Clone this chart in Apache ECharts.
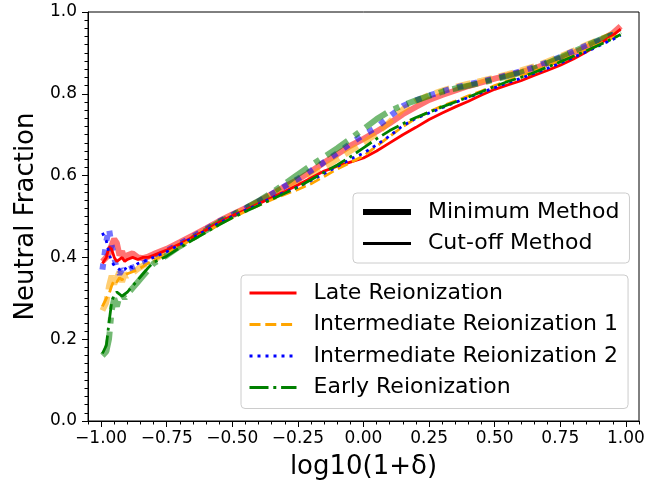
<!DOCTYPE html>
<html>
<head>
<meta charset="utf-8">
<script src="https://cdn.jsdelivr.net/npm/echarts@6/dist/echarts.min.js"></script>
<style>html,body{margin:0;padding:0;background:#fff}#c{width:662px;height:487px}</style>
</head>
<body>
<div id="c"></div>
<script>
// x values: log10(1+delta)
const xs = [-0.995,-0.98,-0.97,-0.96,-0.95,-0.94,-0.93,-0.92,-0.91,-0.90,-0.88,-0.86,-0.84,-0.82,-0.80,
  -0.75,-0.70,-0.65,-0.60,-0.55,-0.50,-0.45,-0.40,-0.35,-0.30,-0.25,-0.20,-0.15,-0.10,-0.05,0.00,
  0.05,0.10,0.15,0.20,0.25,0.30,0.35,0.40,0.45,0.50,0.55,0.60,0.65,0.70,0.75,0.80,0.85,0.90,0.95,0.98];

// Cut-off method (thin lines)
const lateCut = [0.385,0.400,0.425,0.420,0.400,0.390,0.395,0.400,0.390,0.395,0.400,0.395,0.400,0.400,0.405,
  0.418,0.433,0.450,0.467,0.486,0.502,0.516,0.531,0.546,0.561,0.577,0.594,0.611,0.623,0.633,0.643,
  0.660,0.680,0.700,0.718,0.737,0.753,0.768,0.782,0.797,0.811,0.822,0.832,0.845,0.857,0.870,0.885,0.903,0.922,0.943,0.958];
const int1Cut = [0.280,0.300,0.310,0.330,0.345,0.340,0.350,0.345,0.355,0.360,0.365,0.370,0.378,0.386,0.393,
  0.410,0.428,0.445,0.462,0.481,0.497,0.512,0.527,0.541,0.554,0.566,0.580,0.598,0.616,0.632,0.648,
  0.672,0.696,0.720,0.740,0.756,0.770,0.782,0.795,0.807,0.820,0.832,0.843,0.855,0.868,0.880,0.893,0.907,0.922,0.937,0.945];
const int2Cut = [0.460,0.440,0.410,0.390,0.380,0.375,0.370,0.375,0.370,0.380,0.375,0.385,0.390,0.395,0.400,
  0.414,0.431,0.448,0.466,0.484,0.500,0.515,0.530,0.545,0.559,0.572,0.588,0.605,0.622,0.640,0.655,
  0.675,0.697,0.722,0.740,0.753,0.766,0.779,0.791,0.803,0.815,0.827,0.838,0.850,0.862,0.875,0.889,0.903,0.918,0.933,0.943];
const earlyCut = [0.165,0.185,0.240,0.290,0.310,0.315,0.310,0.305,0.310,0.315,0.330,0.345,0.360,0.375,0.388,
  0.403,0.424,0.443,0.461,0.480,0.497,0.512,0.527,0.542,0.557,0.572,0.590,0.608,0.626,0.646,0.668,
  0.690,0.710,0.727,0.742,0.755,0.768,0.780,0.792,0.805,0.818,0.830,0.840,0.852,0.865,0.878,0.892,0.905,0.920,0.935,0.945];

// Minimum method (thick translucent lines)
const lateMin = [0.390,0.400,0.410,0.430,0.445,0.435,0.405,0.415,0.395,0.405,0.410,0.400,0.398,0.402,0.408,
  0.421,0.437,0.454,0.471,0.489,0.505,0.520,0.537,0.555,0.573,0.590,0.610,0.632,0.652,0.673,0.690,
  0.708,0.728,0.750,0.768,0.785,0.797,0.808,0.819,0.828,0.837,0.845,0.853,0.862,0.874,0.886,0.900,0.914,0.929,0.948,0.965];
const int1Min = [0.270,0.290,0.330,0.355,0.335,0.350,0.365,0.340,0.360,0.355,0.362,0.372,0.380,0.387,0.393,
  0.412,0.430,0.448,0.466,0.485,0.502,0.518,0.535,0.552,0.570,0.585,0.600,0.620,0.640,0.660,0.680,
  0.702,0.732,0.762,0.782,0.797,0.808,0.817,0.825,0.832,0.840,0.848,0.857,0.867,0.879,0.892,0.905,0.920,0.933,0.946,0.950];
const int2Min = [0.370,0.440,0.470,0.430,0.400,0.370,0.360,0.370,0.365,0.370,0.375,0.380,0.385,0.390,0.398,
  0.416,0.433,0.451,0.469,0.488,0.504,0.520,0.537,0.555,0.574,0.592,0.612,0.633,0.655,0.678,0.700,
  0.718,0.745,0.770,0.784,0.796,0.806,0.815,0.823,0.830,0.838,0.846,0.855,0.865,0.877,0.890,0.904,0.918,0.931,0.944,0.950];
const earlyMin = [0.160,0.170,0.200,0.270,0.300,0.280,0.305,0.310,0.300,0.310,0.325,0.340,0.355,0.370,0.385,
  0.405,0.427,0.447,0.466,0.486,0.503,0.520,0.538,0.558,0.580,0.603,0.625,0.646,0.667,0.690,0.714,
  0.738,0.758,0.772,0.784,0.795,0.805,0.813,0.820,0.827,0.835,0.843,0.852,0.862,0.875,0.889,0.903,0.918,0.932,0.945,0.953];

const seriesNames = ['Late Reionization','Intermediate Reionization 1','Intermediate Reionization 2','Early Reionization'];
const methodNames = ['Minimum Method','Cut-off Method'];
const xMajorTicks = [-1.00,-0.75,-0.50,-0.25,0.00,0.25,0.50,0.75,1.00];
const yTicks = [0.0,0.2,0.4,0.6,0.8,1.0];

const xMinorTicks = [];
for (let k = 0; k <= 42; k++) xMinorTicks.push(Math.round(-105 + k * 5) / 100);

const colors = ['#ff0000','#ffa500','#0000ff','#008000'];
const thinDash = ['solid',[11,4.8],[3,5],[19,4.8,3,4.8]];
const thickDash = ['solid',[15,7],[6,8.5],[26,8,6,8]];
const cutData = [lateCut,int1Cut,int2Cut,earlyCut];
const minData = [lateMin,int1Min,int2Min,earlyMin];

function zip(ys){ return xs.map((x,i)=>[x,ys[i]]); }

const series = [];
minData.forEach((ys,i)=>{
  series.push({name: seriesNames[i] + ' (min)', type:'line', data: zip(ys), symbol:'none',
    color: colors[i], silent:true,
    lineStyle:{color: colors[i], width:6, opacity:0.55, type: thickDash[i]}});
});
cutData.forEach((ys,i)=>{
  series.push({name: seriesNames[i], type:'line', data: zip(ys), symbol:'none',
    color: colors[i], silent:true,
    lineStyle:{color: colors[i], width:2.8, type: thinDash[i]}});
});
series.push({name: methodNames[0], type:'line', data:[], symbol:'none', color:'#000', lineStyle:{color:'#000', width:6}});
series.push({name: methodNames[1], type:'line', data:[], symbol:'none', color:'#000', lineStyle:{color:'#000', width:3}});

const legendCommon = {
  orient:'vertical', itemWidth:47, itemHeight:14, itemGap:7.5,
  backgroundColor:'#fff', borderColor:'#cccccc', borderWidth:1, borderRadius:4,
  selectedMode:false,
  itemStyle:{opacity:0},
  textStyle:{fontSize:22, color:'#000', fontFamily:'DejaVu Sans', lineHeight:24, padding:[0,0,0,12]}
};

const option = {
  animation:false,
  textStyle:{fontFamily:'DejaVu Sans'},
  grid:{left:88, top:12, width:551, height:409, show:true, borderColor:'#000', borderWidth:1, backgroundColor:'transparent'},
  xAxis:[{
    type:'value', min:-1.05, max:1.05,
    name:'log10(1+δ)', nameLocation:'middle', nameGap:33,
    nameTextStyle:{fontSize:26, color:'#000', fontFamily:'DejaVu Sans'},
    axisLine:{show:true, onZero:false, lineStyle:{color:'#000', width:1}},
    axisTick:{show:true, customValues:xMajorTicks, length:6, lineStyle:{color:'#000', width:1}},
    axisLabel:{show:true, customValues:xMajorTicks, fontSize:17, color:'#000', margin:9,
      formatter:(v)=> (v < -1e-9 ? '\u2212' : '') + Math.abs(v).toFixed(2)},
    splitLine:{show:false}
  },{
    type:'value', min:-1.05, max:1.05, position:'bottom',
    axisLine:{show:false},
    axisTick:{show:true, customValues:xMinorTicks, length:3.5, lineStyle:{color:'#000', width:1}},
    axisLabel:{show:false}, splitLine:{show:false}
  }],
  yAxis:{
    type:'value', min:0, max:1, interval:0.2,
    name:'Neutral Fraction', nameLocation:'middle', nameGap:43,
    nameTextStyle:{fontSize:26, color:'#000', fontFamily:'DejaVu Sans'},
    axisLine:{show:true, onZero:false, lineStyle:{color:'#000', width:1}},
    axisTick:{show:true, length:6, lineStyle:{color:'#000', width:1}},
    minorTick:{show:true, splitNumber:10, length:3.5, lineStyle:{color:'#000', width:1}},
    axisLabel:{fontSize:17, color:'#000', margin:11, customValues: yTicks, formatter:(v)=>v.toFixed(1)},
    splitLine:{show:false}, minorSplitLine:{show:false}
  },
  legend:[
    Object.assign({}, legendCommon, {
      left:353, top:193, itemWidth:48, padding:[7,10,7.5,7],
      data:[
        {name:methodNames[0], itemStyle:{opacity:0}, lineStyle:{width:6, color:'#000', type:'solid', opacity:1}},
        {name:methodNames[1], itemStyle:{opacity:0}, lineStyle:{width:3, color:'#000', type:'solid', opacity:1}}
      ]
    }),
    Object.assign({}, legendCommon, {
      left:241, top:275, padding:[6,10,9,7],
      data: seriesNames.map((n,i)=>({name:n, itemStyle:{opacity:0}, lineStyle:{width:3, color:colors[i], type:thinDash[i], opacity:1}}))
    })
  ],
  series: series
};

const chart = echarts.init(document.getElementById('c'), null, {renderer:'canvas'});
chart.setOption(option);
</script>
</body>
</html>
